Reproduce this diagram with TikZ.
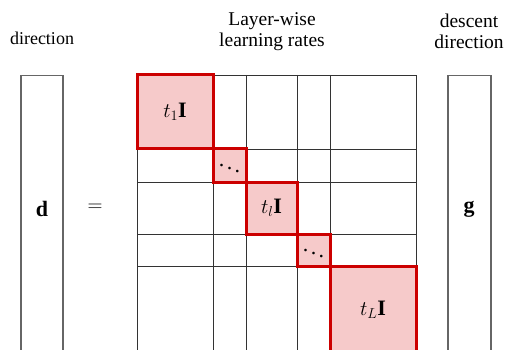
\documentclass[tikz,border=0pt]{standalone}
\usepackage{fontspec}
\setmainfont{Liberation Serif}
\definecolor{redline}{HTML}{CC0000}
\definecolor{pinkfill}{HTML}{F6CACA}
\definecolor{gridc}{HTML}{333333}
\definecolor{vecline}{HTML}{666666}
\tikzset{
  vecbox/.style={draw=vecline, line width=1.3pt, inner sep=0pt, anchor=north},
  gridbox/.style={draw=gridc, line width=0.9pt, inner sep=0pt, anchor=north west},
  gridline/.style={draw=gridc, line width=0.9pt},
  block/.style={draw=redline, fill=pinkfill, line width=3pt, inner sep=0pt, font=\fontsize{22}{26}\selectfont},
  mathlbl/.style={inner sep=0pt, font=\fontsize{22}{26}\selectfont},
  lbl/.style={align=center, inner sep=0pt, font=\fontsize{19.5}{21}\selectfont}
}
\begin{document}
\begin{tikzpicture}[x=1pt,y=-1pt,font=\fontsize{18}{21}\selectfont]
\useasboundingbox (0,0) rectangle (506,350);
\clip (0,0) rectangle (506,350);
% labels
\node[inner sep=0pt] (ldir) at (42,38) {direction};
\node[lbl] (lmid) at (272,32) {Layer-wise\\learning rates};
\node[lbl] (lright) at (469,31) {descent\\direction};
% vectors
\node[vecbox, minimum width=42pt, minimum height=290pt] (dbox) at (42,75) {};
\node[mathlbl] (dlab) at (42,209) {$\mathbf{d}$};
\node[mathlbl] (eq) at (95,208) {$=$};
\node[vecbox, minimum width=43pt, minimum height=290pt] (gbox) at (469.5,75) {};
\node[mathlbl] (glab) at (469,209) {$\mathbf{g}$};
% matrix
\node[gridbox, minimum width=279pt, minimum height=290pt] (M) at (137,75) {};
\foreach \x in {213,246,297,330} \draw[gridline] (\x,75) -- (\x,365);
\foreach \y in {149,182,234,266} \draw[gridline] (137,\y) -- (416,\y);
% blocks
\node[block, minimum width=76pt, minimum height=74pt] (b1) at (175,112) {$t_1\mathbf{I}$};
\node[block, minimum width=33pt, minimum height=33pt] (b2) at (229.5,165.5) {$\ddots$};
\node[block, minimum width=51pt, minimum height=52pt] (b3) at (271.5,208) {$t_l\mathbf{I}$};
\node[block, minimum width=33pt, minimum height=32pt] (b4) at (313.5,250) {$\ddots$};
\node[block, minimum width=86pt, minimum height=88pt] (b5) at (373,310) {$t_L\mathbf{I}$};
\end{tikzpicture}
\end{document}
